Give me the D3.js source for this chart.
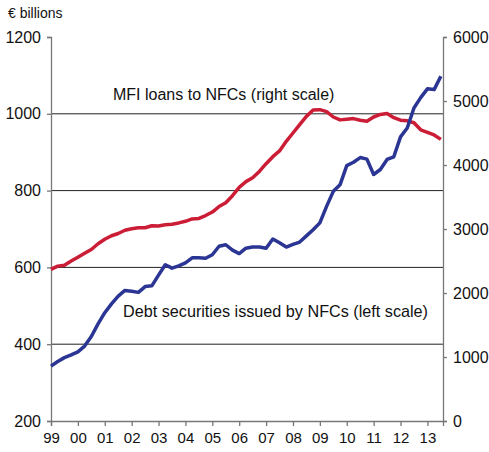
<!DOCTYPE html>
<html>
<head>
<meta charset="utf-8">
<script src="https://cdn.jsdelivr.net/npm/d3@7"></script>
<style>
  body { margin: 0; background: #fff; }
  text { font-family: "Liberation Sans", Arial, sans-serif; fill: #111; }
</style>
</head>
<body>
<script>
// quarterly, 1999 Q1 .. 2013 Q3
const startYear = 1999;
const debtSecurities = [343, 355, 365, 372, 380, 395, 420, 453, 482, 505, 525, 540, 538, 535, 550, 552,
  580, 607, 598, 604, 612, 625, 625, 624, 633, 655, 659, 645, 636, 650, 653, 653,
  650, 674, 664, 653, 660, 666, 682, 698, 716, 759, 798, 815, 865, 874, 886, 882,
  842, 855, 881, 888, 940, 963, 1015, 1042, 1065, 1063, 1098];
const mfiLoans = [2370, 2420, 2435, 2500, 2560, 2620, 2680, 2770, 2840, 2895, 2930, 2980, 3005, 3020, 3020, 3050,
  3047, 3065, 3075, 3095, 3120, 3158, 3165, 3210, 3265, 3350, 3410, 3520, 3650, 3740, 3800, 3900,
  4020, 4130, 4220, 4370, 4500, 4630, 4760, 4860, 4865, 4835, 4750, 4705, 4715, 4725, 4700, 4685,
  4750, 4790, 4805, 4740, 4700, 4690, 4660, 4550, 4510, 4470, 4400];
const yearTicks = d3.range(1999, 2014);
const leftTicks = [200, 400, 600, 800, 1000, 1200];
const rightTicks = [0, 1000, 2000, 3000, 4000, 5000, 6000];

const width = 489, height = 452;
const svg = d3.select("body").append("svg")
  .attr("width", width)
  .attr("height", height);

let x = d3.scaleLinear().domain([1999, 2013.58]).range([51, 443]);
let yL = d3.scaleLinear().domain([200, 1200]).range([421, 37]);
let yR = d3.scaleLinear().domain([0, 6000]).range([421, 37]);

// gridlines
svg.append("g")
  .selectAll("line")
  .data([400, 600, 800, 1000])
  .enter()
  .append("line")
  .attr("x1", x.range()[0]).attr("x2", x.range()[1])
  .attr("y1", d => yL(d)).attr("y2", d => yL(d))
  .attr("stroke", "#222")
  .attr("stroke-width", 1);

// axes
let axisL = svg.append("g")
  .attr("transform", `translate(${x.range()[0]},0)`)
  .call(d3.axisLeft(yL).tickValues(leftTicks).tickSize(4).tickPadding(6).tickFormat(d3.format("d")));
let axisR = svg.append("g")
  .attr("transform", `translate(${x.range()[1]},0)`)
  .call(d3.axisRight(yR).tickValues(rightTicks).tickSize(4).tickPadding(6).tickFormat(d3.format("d")));
let axisB = svg.append("g")
  .attr("transform", `translate(0,${yL.range()[0]})`)
  .call(d3.axisBottom(x).tickValues(yearTicks).tickSize(5).tickPadding(6)
    .tickFormat(d => String(d % 100).padStart(2, "0")));

[axisL, axisR, axisB].forEach(g => {
  g.select(".domain").attr("stroke", "#777").attr("stroke-width", 1.3);
  g.selectAll(".tick line").attr("stroke", "#777").attr("stroke-width", 1.3);
  g.selectAll("text").attr("font-size", 16).attr("fill", "#111")
    .attr("font-family", '"Liberation Sans", Arial, sans-serif');
});
axisB.selectAll("text").attr("font-size", 15);

// lines
let line = (scale) => d3.line()
  .x((d, i) => x(startYear + i / 4))
  .y(d => scale(d));

svg.append("path")
  .datum(mfiLoans)
  .attr("fill", "none")
  .attr("stroke", "#cc1d37")
  .attr("stroke-width", 3.5)
  .attr("stroke-linejoin", "round")
  .attr("d", line(yR));

svg.append("path")
  .datum(debtSecurities)
  .attr("fill", "none")
  .attr("stroke", "#2b3593")
  .attr("stroke-width", 3.5)
  .attr("stroke-linejoin", "round")
  .attr("d", line(yL));

// labels
svg.append("text").attr("x", 8).attr("y", 18).attr("font-size", 14).text("€ billions");
svg.append("text").attr("x", 113).attr("y", 100).attr("font-size", 16)
  .text("MFI loans to NFCs (right scale)");
svg.append("text").attr("x", 123).attr("y", 317).attr("font-size", 16.2)
  .text("Debt securities issued by NFCs (left scale)");
</script>
</body>
</html>
